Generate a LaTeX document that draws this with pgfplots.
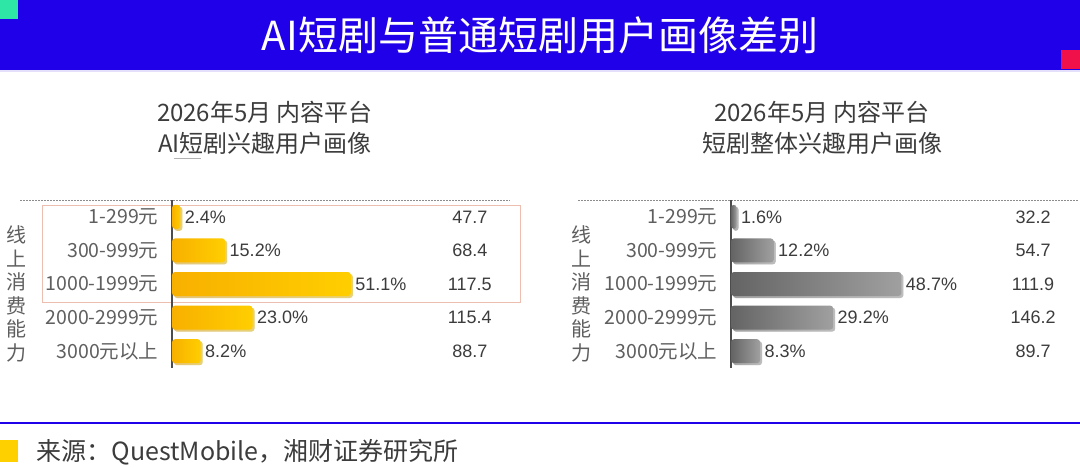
\documentclass[border=0pt]{standalone}
\usepackage{fontspec}
\setmainfont{Noto Sans CJK SC}
\newfontfamily\arial{Liberation Sans}
\usepackage{pgfplots}
\usepackage{pgfplotstable}
\pgfplotsset{compat=1.18}
\usetikzlibrary{shadows}
\definecolor{bannerblue}{RGB}{32,0,232}
\definecolor{teal1}{RGB}{46,230,166}
\definecolor{red1}{RGB}{240,16,74}
\definecolor{ylw}{RGB}{255,208,0}
\definecolor{orgL}{RGB}{248,176,0}
\definecolor{orgR}{RGB}{255,206,0}
\definecolor{grL}{RGB}{100,100,100}
\definecolor{grR}{RGB}{160,160,160}
\definecolor{txt}{RGB}{60,60,60}
\definecolor{lab}{RGB}{95,95,95}
\definecolor{pinkbox}{RGB}{236,190,175}

\pgfplotstableread{
y pct tgi
0 2.4 47.7
1 15.2 68.4
2 51.1 117.5
3 23.0 115.4
4 8.2 88.7
}\leftdata
\pgfplotstableread{
y pct tgi
0 1.6 32.2
1 12.2 54.7
2 48.7 111.9
3 29.2 146.2
4 8.3 89.7
}\rightdata

\pgfplotsset{
  panel/.style={
    anchor=north west, scale only axis, width=350pt, height=168pt,
    xmin=0, xmax=100, ymin=-0.5, ymax=4.5, y dir=reverse,
    axis x line=none, axis y line*=left,
    y axis line style={-, draw=black!70, line width=1.2pt},
    ytick={0,1,2,3,4},
    yticklabels={1-299元,300-999元,1000-1999元,2000-2999元,3000元以上},
    major tick length=0pt,
    yticklabel style={font=\fontsize{19.5}{19.5}\selectfont, text=lab, xshift=-10pt},
    clip=false,
    /pgf/number format/assume math mode=true,
  },
  onebar/.style={xbar, bar shift=0pt, bar width=24pt, draw=none, rounded corners=3pt,
    drop shadow={shadow xshift=2pt, shadow yshift=-2pt, fill=black!35, opacity=0.45}},
  pctlabels/.style={draw=none, point meta=explicit,
    nodes near coords={\pgfmathprintnumber[fixed,fixed zerofill,precision=1]{\pgfplotspointmeta}\%},
    nodes near coords align={horizontal},
    every node near coord/.append style={anchor=west, xshift=1pt, font=\arial\fontsize{18}{18}\selectfont, text=txt}},
  vallabels/.style={draw=none, point meta=explicit,
    nodes near coords={\pgfmathprintnumber[fixed,fixed zerofill,precision=1]{\pgfplotspointmeta}},
    every node near coord/.append style={anchor=center, font=\arial\fontsize{18}{18}\selectfont, text=txt}},
}

\begin{document}
\begin{tikzpicture}[x=1pt,y=1pt]
\path[use as bounding box, fill=white] (0,0) rectangle (1080,-467);
% banner
\fill[bannerblue] (0,0) rectangle (1080,-70);
\fill[bannerblue!12] (0,-70) rectangle (1080,-72);
\fill[teal1] (0,0) rectangle (18,-19);
\fill[red1] (1061,-50) rectangle (1080,-69);
\node[text=white, font=\fontsize{40}{40}\selectfont] at (540,-35) {AI短剧与普通短剧用户画像差别};
% subtitles
\node[text=txt, font=\fontsize{24}{24}\selectfont] at (265,-112) {2026年5月 内容平台};
\node[text=txt, font=\fontsize{24}{24}\selectfont] at (265,-143) {AI短剧兴趣用户画像};
\draw[black!30, line width=0.8pt] (174,-158) -- (201,-158);
\node[text=txt, font=\fontsize{24}{24}\selectfont] at (822,-112) {2026年5月 内容平台};
\node[text=txt, font=\fontsize{24}{24}\selectfont] at (822,-143) {短剧整体兴趣用户画像};
% dashed top lines
\draw[black!45, line width=0.7pt, dash pattern=on 2pt off 1pt] (20,-200) -- (510,-200);
\draw[black!45, line width=0.7pt, dash pattern=on 2pt off 1pt] (578,-200) -- (1078,-200);
% pink box
\draw[pinkbox, line width=1pt] (42,-205) rectangle (520,-302);
% vertical labels
\node[font=\fontsize{20}{23.5}\selectfont, text=lab, align=center] at (16,-294) {线\\上\\消\\费\\能\\力};
\node[font=\fontsize{20}{23.5}\selectfont, text=lab, align=center] at (581,-294) {线\\上\\消\\费\\能\\力};

\begin{axis}[panel, at={(172pt,-200pt)}]
\pgfplotsinvokeforeach{0,...,4}{
  \addplot[onebar, left color=orgL, right color=orgR]
    table[x=pct, y=y, restrict expr to domain={\coordindex}{#1:#1}]{\leftdata};
}
\addplot[pctlabels] table[x=pct, y=y, meta=pct]{\leftdata};
\addplot[vallabels] table[x expr=85.1, y=y, meta=tgi]{\leftdata};
\end{axis}

\begin{axis}[panel, at={(731pt,-200pt)}]
\pgfplotsinvokeforeach{0,...,4}{
  \addplot[onebar, left color=grL, right color=grR]
    table[x=pct, y=y, restrict expr to domain={\coordindex}{#1:#1}]{\rightdata};
}
\addplot[pctlabels] table[x=pct, y=y, meta=pct]{\rightdata};
\addplot[vallabels] table[x expr=86.3, y=y, meta=tgi]{\rightdata};
\end{axis}

% bottom
\draw[bannerblue, line width=2.5pt] (0,-423) -- (1080,-423);
\fill[ylw] (0,-440) rectangle (18,-462);
\node[anchor=west, font=\fontsize{25}{25}\selectfont, text=txt] at (33,-452) {来源：QuestMobile，湘财证券研究所};
\end{tikzpicture}
\end{document}
